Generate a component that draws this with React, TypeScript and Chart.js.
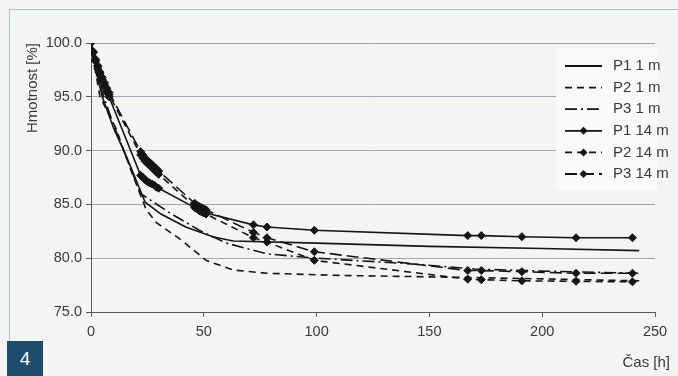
import React, { useEffect, useRef } from 'react';
import { Chart, registerables } from 'chart.js';

Chart.register(...registerables);

// ---- data (hours, mass %) ----
const seriesNames = ['P1 1 m', 'P2 1 m', 'P3 1 m', 'P1 14 m', 'P2 14 m', 'P3 14 m'];

const hoursP1_1m = [0, 2, 5, 10, 16, 24, 31, 42, 54, 63, 100, 150, 200, 243];
const massP1_1m = [100, 97.6, 95.0, 92.1, 89.3, 85.2, 84.1, 82.9, 82.0, 81.6, 81.4, 81.1, 80.9, 80.7];

const hoursP2_1m = [0, 2, 4, 11, 18, 24.5, 29, 40, 51, 63, 78, 110, 170, 243];
const massP2_1m = [100, 97.3, 95.0, 92.1, 88.0, 84.5, 83.3, 81.7, 79.8, 78.9, 78.6, 78.4, 78.2, 77.9];

const hoursP3_1m = [0, 4, 10, 16, 22, 35, 48, 60, 78, 100, 140, 170, 200, 243];
const massP3_1m = [100, 96.0, 92.4, 89.2, 86.0, 84.2, 82.6, 81.4, 80.4, 80.0, 79.5, 79.0, 78.8, 78.6];

const hours14m = [0, 1, 2, 3, 4, 5, 6, 7, 8, 22, 23, 24, 25, 26, 27, 28, 29, 30, 46, 47, 48, 49, 50, 51, 72, 78, 99, 167, 173, 191, 215, 240];
const massP1_14m = [100, 99.1, 98.3, 97.6, 97.0, 96.4, 95.9, 95.4, 95.0, 87.7, 87.5, 87.3, 87.1, 87.0, 86.9, 86.8, 86.6, 86.5, 84.7, 84.6, 84.5, 84.4, 84.3, 84.2, 83.1, 82.9, 82.6, 82.1, 82.1, 82.0, 81.9, 81.9];
const massP2_14m = [100, 99.1, 98.4, 97.8, 97.2, 96.6, 96.1, 95.6, 95.2, 89.6, 89.3, 89.0, 88.8, 88.6, 88.4, 88.2, 88.0, 87.8, 84.8, 84.6, 84.4, 84.3, 84.2, 84.1, 81.9, 81.5, 79.8, 78.05, 78.0, 77.9, 77.85, 77.8];
const massP3_14m = [100, 99.2, 98.5, 97.9, 97.3, 96.8, 96.3, 95.8, 95.4, 89.9, 89.6, 89.3, 89.1, 88.9, 88.7, 88.5, 88.3, 88.1, 85.1, 84.9, 84.8, 84.7, 84.6, 84.5, 82.4, 81.9, 80.6, 78.85, 78.85, 78.75, 78.6, 78.6];

const xTickStep = 50;
const yTickStep = 5;
const xTitle = 'Čas [h]';
const yTitle = 'Hmotnost [%]';

const ink = '#151515';
const textColor = '#3a3a3a';
const axisColor = '#5a5a5a';
const gridColor = '#9aa8bd';

function pts(xs: number[], ys: number[]) {
  return xs.map((x, i) => ({ x, y: ys[i] }));
}

const overlayPlugin = {
  id: 'overlay',
  afterDraw(chart: any) {
    const ctx = chart.ctx as CanvasRenderingContext2D;
    const area = chart.chartArea;
    ctx.save();
    // legend box
    const bx = area.right - 99;
    const by = area.top + 5;
    ctx.fillStyle = '#fafaf9';
    ctx.fillRect(bx, by, 102, 142);
    chart.data.datasets.forEach((ds: any, i: number) => {
      const y = by + 18 + i * 21.6;
      const x0 = bx + 9;
      const x1 = bx + 46;
      ctx.strokeStyle = ds.borderColor;
      ctx.lineWidth = 1.8;
      ctx.setLineDash(ds.borderDash || []);
      ctx.beginPath();
      ctx.moveTo(x0, y);
      ctx.lineTo(x1, y);
      ctx.stroke();
      ctx.setLineDash([]);
      if (ds.pointRadius > 0) {
        const cx = (x0 + x1) / 2;
        const r = ds.pointRadius;
        ctx.fillStyle = ink;
        ctx.beginPath();
        ctx.moveTo(cx, y - r);
        ctx.lineTo(cx + r, y);
        ctx.lineTo(cx, y + r);
        ctx.lineTo(cx - r, y);
        ctx.closePath();
        ctx.fill();
      }
      ctx.fillStyle = textColor;
      ctx.font = '15px "Liberation Sans", Arial, sans-serif';
      ctx.textAlign = 'left';
      ctx.textBaseline = 'middle';
      ctx.fillText(ds.label, bx + 57, y);
    });
    // x axis title
    ctx.fillStyle = textColor;
    ctx.font = '15px "Liberation Sans", Arial, sans-serif';
    ctx.textAlign = 'right';
    ctx.textBaseline = 'middle';
    ctx.fillText(xTitle, area.right + 15, area.bottom + 51);
    ctx.restore();
  },
};

export default function App() {
  const ref = useRef<HTMLCanvasElement>(null);
  useEffect(() => {
    document.body.style.margin = '0';
    const font = { family: '"Liberation Sans", Arial, sans-serif', size: 14.5 };
    const line = (label: string, data: any[], dash: number[], markers: boolean) => ({
      label,
      data,
      borderColor: ink,
      backgroundColor: ink,
      borderWidth: 1.6,
      borderDash: dash,
      pointStyle: 'rectRot',
      pointRadius: markers ? 4 : 0,
      pointBackgroundColor: ink,
      pointBorderColor: ink,
      pointBorderWidth: 1,
      tension: 0,
      fill: false,
    });
    const chart = new Chart(ref.current!, {
      type: 'line',
      data: {
        datasets: [
          line(seriesNames[0], pts(hoursP1_1m, massP1_1m), [], false),
          line(seriesNames[1], pts(hoursP2_1m, massP2_1m), [7, 5], false),
          line(seriesNames[2], pts(hoursP3_1m, massP3_1m), [12, 4, 2, 4], false),
          line(seriesNames[3], pts(hours14m, massP1_14m), [], true),
          line(seriesNames[4], pts(hours14m, massP2_14m), [7, 5], true),
          line(seriesNames[5], pts(hours14m, massP3_14m), [12, 5], true),
        ] as any,
      },
      options: {
        animation: false,
        responsive: false,
        maintainAspectRatio: false,
        layout: { padding: { top: 43, right: 23, left: 0, bottom: 0 } },
        plugins: { legend: { display: false }, tooltip: { enabled: false } },
        scales: {
          x: {
            type: 'linear',
            min: 0,
            max: 250,
            afterFit: (s: any) => { s.height = 64; },
            ticks: { stepSize: xTickStep, font, color: textColor, padding: 6, maxRotation: 0 },
            grid: { drawOnChartArea: false, drawTicks: true, tickLength: 5, color: axisColor },
            border: { color: axisColor, width: 1 },
          },
          y: {
            type: 'linear',
            min: 75,
            max: 100,
            afterFit: (s: any) => { s.width = 91; },
            ticks: {
              stepSize: yTickStep,
              font,
              color: textColor,
              padding: 4,
              callback: (v: any) => Number(v).toFixed(1),
            },
            grid: { color: gridColor, tickColor: axisColor, tickLength: 5, lineWidth: 1 },
            border: { color: axisColor, width: 1 },
            title: {
              display: true,
              text: yTitle,
              align: 'end',
              color: textColor,
              font: { family: '"Liberation Sans", Arial, sans-serif', size: 15 },
              padding: { top: 23.5, bottom: 0 },
            },
          },
        },
      } as any,
      plugins: [overlayPlugin],
    });
    return () => chart.destroy();
  }, []);

  return (
    <div style={{ position: 'relative', width: 678, height: 376, background: '#f4f4f2', overflow: 'hidden' }}>
      <div style={{ position: 'absolute', left: 9, top: 9, width: 669, height: 1, background: '#a9c3cc' }} />
      <div style={{ position: 'absolute', left: 9, top: 9, width: 1, height: 332, background: '#a9c3cc' }} />
      <canvas ref={ref} width={678} height={376} style={{ position: 'absolute', left: 0, top: 0 }} />
      <div
        style={{
          position: 'absolute', left: 7, top: 341, width: 36, height: 35, background: '#1c4e6c',
          color: '#ffffff', font: '19px "Liberation Sans", Arial, sans-serif', display: 'flex',
          alignItems: 'center', justifyContent: 'center',
        }}
      >
        4
      </div>
    </div>
  );
}
